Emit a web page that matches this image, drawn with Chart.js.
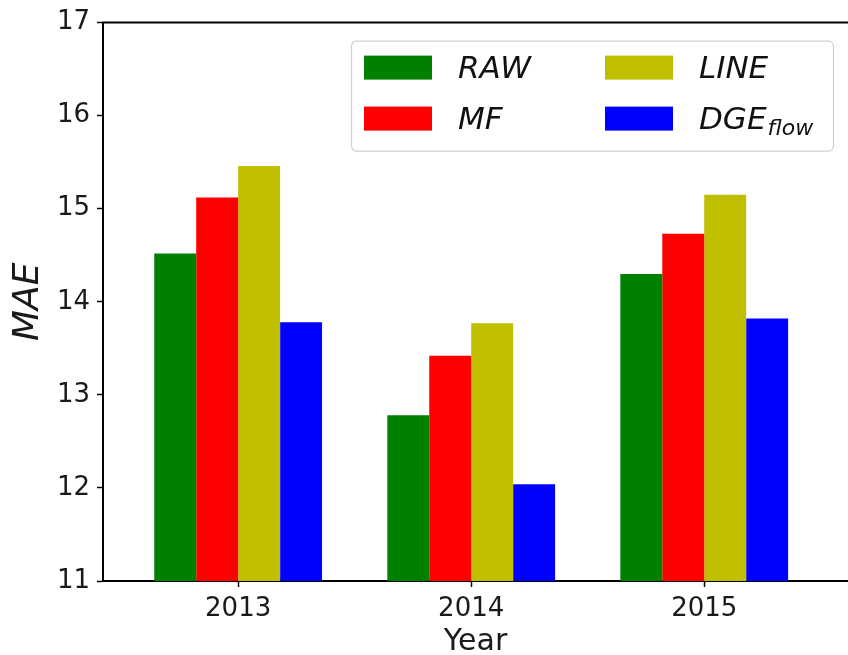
<!DOCTYPE html>
<html>
<head>
<meta charset="utf-8">
<script src="https://cdn.jsdelivr.net/npm/chart.js@4/dist/chart.umd.min.js"></script>
<style>
  html, body { margin: 0; padding: 0; background: #fff; overflow: hidden; }
  #wrap { width: 848px; height: 655px; }
</style>
</head>
<body>
<div id="wrap"><canvas id="c" width="848" height="655"></canvas></div>
<script>
// Years on the x axis (bar groups sit at positions 0, 1, 2)
const years = ['2013', '2014', '2015'];
// Method names; text after '_' is drawn as a subscript in the legend
const methods = ['RAW', 'MF', 'LINE', 'DGE_flow'];
const methodColors = ['#008000', '#ff0000', '#bfbf00', '#0000ff'];
// MAE per method, one value per year
const rawMAE  = [14.52, 12.78, 14.30];
const mfMAE   = [15.12, 13.42, 14.73];
const lineMAE = [15.46, 13.77, 15.15];
const dgeMAE  = [13.78, 12.04, 13.82];
const yTicks = [11, 12, 13, 14, 15, 16, 17];

const series = [rawMAE, mfMAE, lineMAE, dgeMAE];
const FONT = "'DejaVu Sans', sans-serif";
const INK = '#1a1a1a';

// Top spine of the axes frame
const topSpine = {
  id: 'topSpine',
  afterDraw(chart) {
    const { ctx, chartArea } = chart;
    ctx.save();
    ctx.strokeStyle = '#000';
    ctx.lineWidth = 2;
    ctx.beginPath();
    ctx.moveTo(chartArea.left - 1, chartArea.top);
    ctx.lineTo(chartArea.right, chartArea.top);
    ctx.stroke();
    ctx.restore();
  }
};

// Two-column legend with subscript support
const boxLegend = {
  id: 'boxLegend',
  afterDraw(chart) {
    const { ctx, chartArea } = chart;
    const bx = chartArea.left + 248, by = chartArea.top + 18, bw = 482, bh = 110;
    ctx.save();
    ctx.fillStyle = 'rgba(255,255,255,0.85)';
    ctx.strokeStyle = '#d0d0d0';
    ctx.lineWidth = 1.2;
    ctx.beginPath();
    ctx.roundRect(bx + 0.5, by + 0.5, bw, bh, 5);
    ctx.fill();
    ctx.stroke();

    chart.data.datasets.forEach((ds, i) => {
      const col = Math.floor(i / 2), row = i % 2;
      const hx = bx + 13 + col * 241;
      const hy = by + 15 + row * 51;
      ctx.fillStyle = ds.backgroundColor;
      ctx.fillRect(hx, hy, 68, 24);
      const [main, sub] = ds.label.split('_');
      ctx.fillStyle = '#111';
      ctx.textBaseline = 'alphabetic';
      ctx.textAlign = 'left';
      ctx.font = 'italic 31px ' + FONT;
      const tx = hx + 94, ty = hy + 22;
      ctx.fillText(main, tx, ty);
      if (sub) {
        const w = ctx.measureText(main).width;
        ctx.font = 'italic 22px ' + FONT;
        ctx.fillText(sub, tx + w + 1, ty + 6);
      }
    });
    ctx.restore();
  }
};

new Chart(document.getElementById('c'), {
  type: 'bar',
  data: {
    datasets: methods.map((name, i) => ({
      label: name,
      data: series[i].map((v, k) => ({ x: k, y: v })),
      backgroundColor: methodColors[i],
      borderWidth: 0,
      categoryPercentage: 0.72,
      barPercentage: 1.0
    }))
  },
  options: {
    responsive: false,
    animation: false,
    devicePixelRatio: 1,
    layout: { padding: { top: 22, left: 0, right: 0, bottom: 0 } },
    plugins: { legend: { display: false }, tooltip: { enabled: false } },
    scales: {
      x: {
        type: 'linear',
        min: -0.58,
        max: 2.617,
        offset: false,
        afterBuildTicks(scale) { scale.ticks = years.map((_, k) => ({ value: k })); },
        afterFit(scale) { scale.height = 74; },
        grid: { display: true, drawOnChartArea: false, drawTicks: true, tickLength: 6, tickColor: '#000', tickWidth: 1.5, offset: false },
        border: { display: true, color: '#000', width: 2 },
        ticks: {
          color: INK,
          font: { family: FONT, size: 26 },
          padding: 7,
          maxRotation: 0,
          autoSkip: false,
          callback: (v) => years[v] ?? ''
        },
        title: {
          display: true,
          text: 'Year',
          color: INK,
          font: { family: FONT, size: 30, lineHeight: 1.0 },
          padding: { top: 0, bottom: -2 }
        }
      },
      y: {
        min: yTicks[0],
        max: yTicks[yTicks.length - 1],
        afterBuildTicks(scale) { scale.ticks = yTicks.map(v => ({ value: v })); },
        afterFit(scale) { scale.width = 103; },
        grid: { display: true, drawOnChartArea: false, drawTicks: true, tickLength: 6, tickColor: '#000', tickWidth: 1.5 },
        border: { display: true, color: '#000', width: 2 },
        ticks: {
          color: INK,
          font: { family: FONT, size: 26 },
          padding: 7
        },
        title: {
          display: true,
          text: 'MAE',
          color: INK,
          font: { family: FONT, size: 36, style: 'italic', lineHeight: 1.0 },
          padding: { top: 11, bottom: 0 }
        }
      }
    }
  },
  plugins: [topSpine, boxLegend]
});
</script>
</body>
</html>
